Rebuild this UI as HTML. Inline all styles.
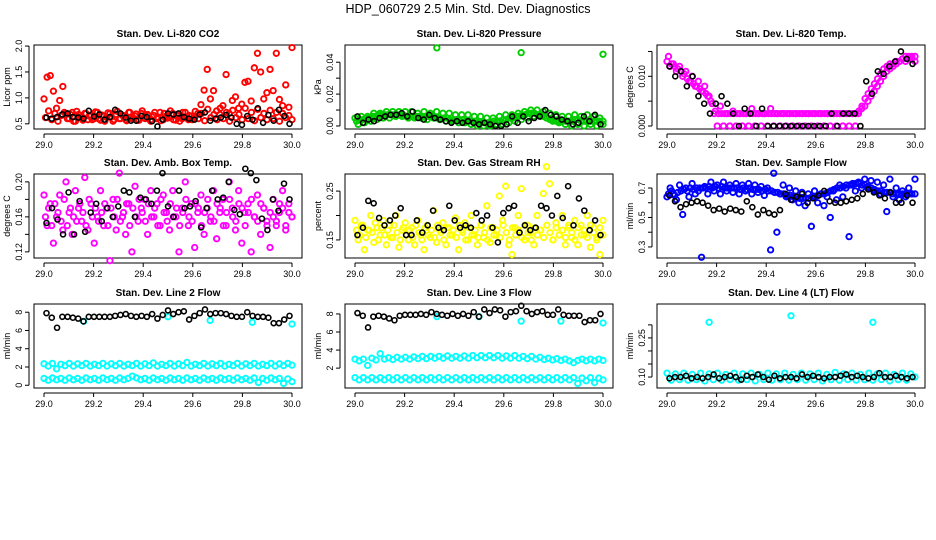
<!DOCTYPE html>
<html><head><meta charset="utf-8">
<style>
html,body{margin:0;padding:0;background:#fff;}
svg{display:block;font-family:"Liberation Sans",sans-serif;}
</style></head>
<body>
<svg id="chart" width="936" height="540" viewBox="0 0 936 540" xmlns="http://www.w3.org/2000/svg">
<rect width="936" height="540" fill="#fff"/>
<text x="468" y="13" text-anchor="middle" font-size="12.5">HDP_060729  2.5 Min. Std. Dev. Diagnostics</text>
</svg>
<script>
// ---------- data ----------
const xTicks = [29.0, 29.2, 29.4, 29.6, 29.8, 30.0];
const xTickLabels = ["29.0","29.2","29.4","29.6","29.8","30.0"];
const titles = ["Stan. Dev. Li-820 CO2","Stan. Dev. Li-820 Pressure","Stan. Dev. Li-820 Temp.","Stan. Dev. Amb. Box Temp.","Stan. Dev. Gas Stream RH","Stan. Dev. Sample Flow","Stan. Dev. Line 2 Flow","Stan. Dev. Line 3 Flow","Stan. Dev. Line 4 (LT) Flow"];
const yTitles = ["Licor ppm","kPa","degrees C","degrees C","percent","ml/min","ml/min","ml/min","ml/min"];
const yRanges = [[0.40,2.02],[-0.0019,0.0508],[-0.0006,0.0163],[0.113,0.209],[0.113,0.285],[0.225,0.795],[-0.3,8.9],[-0.2,9.1],[0.058,0.38]];
const yTicks = [[0.5,1.0,1.5,2.0],[0,0.01,0.02,0.03,0.04],[0,0.005,0.010,0.015],[0.12,0.14,0.16,0.18,0.20],[0.15,0.20,0.25],[0.3,0.4,0.5,0.6,0.7],[0,2,4,6,8],[2,4,6,8],[0.10,0.15,0.20,0.25,0.30]];
const yTickLabels = [["0.5","1.0","1.5","2.0"],["0.00","","0.02","","0.04"],["0.000","","0.010",""],["0.12","","0.16","","0.20"],["0.15","","0.25"],["0.3","","0.5","","0.7"],["0","2","4","6","8"],["2","4","6","8"],["0.10","","","0.25",""]];
const colors = ["#ff0000","#00cc00","#ff00ff","#ff00ff","#ffff00","#0000ff","#00ffff","#00ffff","#00ffff"];

const co2Red = [0.98,1.4,1.43,1.13,0.8,0.95,1.22,0.7,0.6,0.72,0.55,0.68,0.62,0.7,0.58,0.66,0.6,0.72,0.57,0.65,0.62,0.7,0.55,0.68,0.6,0.66,0.58,0.72,0.6,0.65,0.57,0.7,0.62,0.68,0.55,0.66,0.6,0.72,0.58,0.65,0.62,0.7,0.57,0.66,0.6,0.72,0.58,0.65,0.62,0.7,0.87,1.15,1.55,0.98,1.14,0.75,0.68,0.85,1.45,0.7,0.95,1.02,0.8,0.88,1.3,1.32,0.94,1.58,1.86,1.5,0.98,1.1,1.55,1.14,1.86,0.97,0.85,1.25,0.82,1.97];
const co2Band = [0.62,0.75,0.58,0.7,0.55,0.66,0.72,0.6,0.68,0.55,0.74,0.62,0.57,0.7,0.65,0.58,0.73,0.6,0.67,0.55,0.71,0.63,0.58,0.74,0.6,0.66,0.56,0.72,0.62,0.69,0.57,0.75,0.6,0.66,0.58,0.72,0.63,0.56,0.7,0.61,0.75,0.58,0.68,0.55,0.72,0.62,0.66,0.58,0.74,0.6,0.7,0.56,0.78,0.62,0.68,0.58,0.8,0.6,0.72,0.55,0.76,0.62,0.68,0.58,0.8,0.6,0.72,0.56,0.78,0.62,0.7,0.58,0.76,0.6,0.72,0.55,0.7,0.62,0.66,0.58];
const co2Black = [0.62,0.6,0.63,0.68,0.7,0.63,0.62,0.6,0.75,0.64,0.68,0.58,0.63,0.77,0.7,0.62,0.56,0.56,0.65,0.63,0.55,0.45,0.58,0.7,0.68,0.7,0.63,0.6,0.58,0.68,0.72,0.56,0.6,0.62,0.67,0.62,0.5,0.48,0.65,0.58,0.8,0.52,0.67,0.56,0.77,0.65,0.5];
const presGreen = [0.005,0.001,0.006,0.002,0.006,0.003,0.008,0.004,0.008,0.005,0.009,0.005,0.009,0.006,0.009,0.006,0.009,0.005,0.009,0.005,0.008,0.005,0.009,0.004,0.008,0.005,0.009,0.004,0.008,0.003,0.008,0.003,0.007,0.002,0.007,0.002,0.007,0.001,0.006,0.000,0.006,0.000,0.005,0.000,0.005,0.001,0.006,0.001,0.007,0.002,0.007,0.003,0.008,0.004,0.009,0.005,0.010,0.006,0.010,0.006,0.009,0.005,0.008,0.003,0.007,0.002,0.006,0.001,0.006,0.000,0.007,0.001,0.006,0.000,0.007,0.001,0.006,0.000,0.005,0.001];
const presBand = [0.003,0.004,0.004,0.005,0.005,0.006,0.006,0.007,0.007,0.007,0.007,0.007,0.007,0.007,0.007,0.007,0.006,0.006,0.006,0.006,0.006,0.006,0.006,0.006,0.006,0.005,0.005,0.005,0.005,0.005,0.004,0.004,0.004,0.004,0.004,0.003,0.003,0.003,0.003,0.002,0.002,0.002,0.002,0.002,0.003,0.003,0.003,0.004,0.004,0.005,0.005,0.006,0.006,0.007,0.007,0.008,0.008,0.008,0.007,0.007,0.006,0.005,0.004,0.004,0.003,0.003,0.003,0.003,0.003,0.003,0.004,0.004,0.003,0.003,0.003,0.003,0.003,0.003,0.003,0.003];
const presBlack = [0.006,0.002,0.004,0.003,0.005,0.006,0.007,0.007,0.008,0.006,0.009,0.005,0.004,0.007,0.005,0.004,0.003,0.002,0.003,0.002,0.003,0.002,0.001,0.002,0.001,0.000,0.000,0.001,0.006,0.002,0.006,0.003,0.005,0.006,0.010,0.007,0.006,0.004,0.003,0.001,0.002,0.006,0.003,0.007,0.001];
const presOutX = [29.33,29.67,30.0];
const presOutY = [0.049,0.046,0.045];
const tempMag = [0.013,0.012,0.0125,0.011,0.012,0.010,0.011,0.009,0.010,0.008,0.009,0.007,0.008,0.006,0.005,0.0025,0,0.004,0,0.0025,0,0.003,0,0.0025,0,0.0025,0,0.0035,0,0.0025,0,0.0025,0,0.0035,0,0.0025,0,0.0025,0,0.0025,0,0.0025,0,0.0025,0,0.0025,0,0.0025,0,0.0025,0,0.0025,0,0.0025,0,0.0025,0,0.0025,0,0.0025,0,0.0025,0.0035,0.004,0.005,0.006,0.007,0.008,0.009,0.010,0.011,0.0115,0.012,0.0125,0.013,0.0135,0.013,0.014,0.0135,0.014];
const tempBand = [0.014,0.0125,0.012,0.0115,0.011,0.0105,0.0095,0.009,0.0085,0.008,0.0075,0.007,0.0065,0.006,0.0045,0.003,0.0025,0.0025,0.0025,0.0025,0.0025,0.0025,0.0025,0.0025,0.0025,0.0025,0.0025,0.0025,0.0025,0.0025,0.0025,0.0025,0.0025,0.0025,0.0025,0.0025,0.0025,0.0025,0.0025,0.0025,0.0025,0.0025,0.0025,0.0025,0.0025,0.0025,0.0025,0.0025,0.0025,0.0025,0.0025,0.0025,0.0025,0.0025,0.0025,0.0025,0.0025,0.0025,0.0025,0.0025,0.0025,0.003,0.004,0.0055,0.0065,0.0075,0.0085,0.0095,0.0105,0.0115,0.012,0.0125,0.0125,0.013,0.013,0.0135,0.014,0.0135,0.014,0.013];
const tempBlack = [0.012,0.010,0.011,0.008,0.010,0.006,0.0045,0.0025,0.0045,0.006,0.0045,0.0025,0,0.0035,0.0025,0,0.0035,0,0,0,0,0,0,0,0,0,0,0,0.0025,0,0.0025,0.0025,0.0025,0,0.009,0.0065,0.011,0.0105,0.012,0.013,0.015,0.0135,0.0125];
const ambMag = [0.185,0.15,0.175,0.13,0.16,0.185,0.145,0.2,0.165,0.14,0.19,0.17,0.155,0.205,0.145,0.175,0.13,0.16,0.19,0.15,0.17,0.11,0.18,0.145,0.21,0.16,0.14,0.175,0.12,0.195,0.155,0.17,0.18,0.14,0.19,0.16,0.175,0.15,0.185,0.165,0.145,0.19,0.16,0.12,0.17,0.2,0.15,0.175,0.125,0.165,0.185,0.14,0.17,0.155,0.19,0.135,0.165,0.18,0.15,0.2,0.17,0.145,0.19,0.13,0.165,0.175,0.12,0.16,0.185,0.14,0.17,0.155,0.125,0.18,0.15,0.165,0.19,0.145,0.175,0.16];
const ambBand = [0.16,0.17,0.15,0.175,0.165,0.155,0.18,0.15,0.17,0.16,0.155,0.175,0.165,0.15,0.18,0.16,0.17,0.155,0.165,0.175,0.15,0.17,0.16,0.18,0.155,0.165,0.175,0.15,0.17,0.16,0.18,0.165,0.155,0.175,0.16,0.17,0.15,0.18,0.165,0.155,0.175,0.16,0.17,0.15,0.165,0.18,0.16,0.155,0.175,0.17,0.15,0.165,0.18,0.16,0.155,0.175,0.17,0.15,0.165,0.18,0.16,0.155,0.175,0.17,0.15,0.165,0.18,0.16,0.155,0.175,0.17,0.15,0.165,0.16,0.155,0.175,0.17,0.15,0.165,0.16];
const ambBlack = [0.153,0.17,0.157,0.14,0.188,0.14,0.178,0.143,0.165,0.175,0.155,0.17,0.16,0.172,0.19,0.188,0.16,0.182,0.18,0.175,0.19,0.21,0.172,0.16,0.19,0.17,0.172,0.178,0.148,0.17,0.19,0.18,0.182,0.2,0.168,0.163,0.215,0.21,0.202,0.158,0.145,0.18,0.167,0.198,0.18];
const rhYellow = [0.19,0.15,0.18,0.13,0.17,0.2,0.145,0.175,0.16,0.19,0.14,0.18,0.155,0.2,0.135,0.17,0.185,0.15,0.175,0.14,0.19,0.16,0.13,0.18,0.155,0.21,0.145,0.17,0.185,0.14,0.175,0.16,0.195,0.13,0.17,0.185,0.15,0.2,0.16,0.14,0.18,0.155,0.22,0.145,0.175,0.16,0.24,0.19,0.26,0.14,0.12,0.175,0.2,0.255,0.15,0.18,0.165,0.14,0.2,0.17,0.245,0.3,0.265,0.15,0.185,0.16,0.2,0.14,0.175,0.155,0.19,0.14,0.18,0.16,0.2,0.135,0.175,0.155,0.12,0.19];
const rhBand = [0.17,0.16,0.18,0.155,0.17,0.165,0.185,0.15,0.175,0.16,0.17,0.155,0.18,0.165,0.15,0.175,0.16,0.17,0.155,0.18,0.165,0.15,0.175,0.16,0.17,0.155,0.18,0.165,0.15,0.175,0.16,0.17,0.155,0.18,0.165,0.15,0.175,0.16,0.17,0.155,0.18,0.165,0.15,0.175,0.16,0.17,0.155,0.18,0.165,0.15,0.175,0.16,0.17,0.155,0.18,0.165,0.15,0.175,0.16,0.17,0.155,0.18,0.165,0.15,0.175,0.16,0.17,0.155,0.18,0.165,0.15,0.175,0.16,0.17,0.155,0.18,0.165,0.15,0.175,0.16];
const rhBlack = [0.16,0.175,0.23,0.225,0.195,0.18,0.19,0.2,0.215,0.16,0.16,0.19,0.165,0.18,0.21,0.175,0.17,0.22,0.19,0.175,0.18,0.175,0.205,0.19,0.2,0.175,0.145,0.205,0.215,0.22,0.165,0.18,0.17,0.175,0.22,0.215,0.2,0.24,0.195,0.26,0.18,0.235,0.21,0.17,0.19,0.16];
const flowBlue = [0.64,0.7,0.66,0.62,0.72,0.52,0.7,0.64,0.73,0.66,0.68,0.23,0.71,0.66,0.74,0.68,0.72,0.66,0.74,0.68,0.72,0.67,0.73,0.66,0.72,0.68,0.73,0.66,0.72,0.67,0.71,0.65,0.7,0.28,0.8,0.4,0.66,0.72,0.64,0.7,0.62,0.68,0.6,0.67,0.58,0.66,0.44,0.68,0.6,0.66,0.58,0.64,0.5,0.68,0.62,0.72,0.64,0.7,0.37,0.72,0.68,0.74,0.7,0.76,0.7,0.75,0.68,0.74,0.66,0.72,0.54,0.76,0.64,0.7,0.62,0.68,0.64,0.7,0.66,0.76];
const flowBand = [0.66,0.68,0.65,0.67,0.68,0.69,0.68,0.7,0.69,0.7,0.7,0.7,0.7,0.71,0.7,0.71,0.7,0.71,0.7,0.7,0.7,0.7,0.7,0.69,0.7,0.69,0.7,0.69,0.69,0.69,0.68,0.69,0.68,0.68,0.67,0.67,0.66,0.66,0.65,0.65,0.64,0.64,0.63,0.63,0.63,0.63,0.64,0.64,0.65,0.66,0.66,0.67,0.68,0.69,0.7,0.7,0.71,0.72,0.72,0.73,0.73,0.73,0.72,0.72,0.71,0.7,0.69,0.68,0.68,0.67,0.67,0.67,0.66,0.66,0.66,0.66,0.66,0.66,0.66,0.66];
const flowBlack = [0.65,0.61,0.57,0.59,0.6,0.61,0.6,0.58,0.55,0.56,0.54,0.56,0.55,0.54,0.61,0.57,0.52,0.55,0.53,0.52,0.55,0.66,0.62,0.64,0.66,0.6,0.63,0.65,0.68,0.61,0.6,0.6,0.61,0.62,0.63,0.66,0.69,0.67,0.65,0.63,0.67,0.6,0.6,0.65,0.6];
const line2Upper = [2.35,2.1,2.4,1.8,2.3,2.15,2.4,2.1,2.35,2.15,2.4,2.1,2.3,2.15,2.4,2.1,2.35,2.15,2.4,2.1,2.3,2.15,2.4,2.1,2.35,2.15,2.45,2.1,2.3,2.15,2.4,2.1,2.35,2.15,2.5,2.1,2.3,2.15,2.4,2.1,2.35,2.15,2.4,2.1,2.3,2.15,2.4,2.1,2.35,2.15,2.4,2.1,2.3,2.15,2.4,2.1,2.35,2.15,2.4,2.2];
const line2Lower = [0.75,0.55,0.8,0.6,0.75,0.55,0.8,0.6,0.75,0.55,0.8,0.6,0.75,0.55,0.8,0.6,0.75,0.55,0.8,0.6,0.75,1.0,0.8,0.6,0.75,0.55,0.8,0.6,0.75,0.55,0.8,0.6,0.75,0.55,0.8,0.6,0.75,0.55,0.8,0.6,0.75,0.55,0.8,0.6,0.75,0.55,0.8,0.6,0.75,0.55,0.8,0.3,0.75,0.55,0.8,0.6,0.75,0.2,0.7,0.4];
const line2Black = [7.9,7.4,6.3,7.5,7.5,7.4,7.3,7.0,7.5,7.5,7.5,7.5,7.5,7.6,7.7,7.8,7.6,7.5,7.6,7.5,7.8,7.3,7.7,8.2,7.8,8.0,8.1,7.2,7.6,7.9,8.3,7.8,7.9,7.9,7.8,7.6,7.5,7.5,8.0,7.6,7.5,7.5,7.4,6.8,6.8,7.2,7.6];
const line2OutX = [29.16,29.5,29.67,29.84,30.0];
const line2OutY = [7.0,7.5,7.1,6.9,6.7];
const line3Upper = [3.0,2.8,3.0,2.3,3.1,2.9,3.6,3.0,3.15,2.95,3.2,3.0,3.2,3.0,3.25,3.05,3.3,3.05,3.3,3.1,3.3,3.1,3.35,3.1,3.3,3.1,3.35,3.1,3.4,3.15,3.4,3.15,3.4,3.15,3.4,3.1,3.35,3.1,3.4,3.1,3.3,3.05,3.3,3.0,3.2,2.95,3.1,2.9,3.05,2.85,3.0,2.8,2.6,2.85,3.0,2.8,3.0,2.8,3.0,2.85];
const line3Lower = [0.95,0.7,0.95,0.7,0.95,0.7,0.95,0.7,0.95,0.7,0.95,0.7,0.95,0.7,0.95,0.7,0.95,0.7,0.95,0.7,0.95,0.7,0.95,0.7,0.95,0.7,0.95,0.7,0.95,0.7,0.95,0.7,0.95,0.7,0.95,0.7,0.95,0.7,0.95,0.7,0.95,0.7,0.95,0.7,0.95,0.7,0.95,0.7,0.95,0.7,0.95,0.7,0.95,0.3,0.9,0.6,0.95,0.4,0.9,0.7];
const line3Black = [8.1,7.8,6.5,7.7,7.8,7.7,7.5,7.3,7.8,7.9,7.9,7.9,8.0,7.9,8.2,8.0,7.9,7.8,8.0,7.8,8.0,7.8,8.2,7.7,8.5,8.1,8.5,8.4,7.7,8.2,8.3,8.9,8.3,8.0,8.2,8.3,7.9,7.9,8.5,7.9,7.8,7.8,7.8,7.1,7.3,7.3,8.0];
const line3OutX = [29.33,29.5,29.67,29.83,30.0];
const line3OutY = [7.7,7.7,7.2,7.2,7.0];
const line4Cyan = [0.115,0.088,0.112,0.09,0.115,0.088,0.11,0.09,0.115,0.085,0.112,0.09,0.115,0.088,0.11,0.09,0.115,0.088,0.112,0.09,0.115,0.085,0.11,0.09,0.115,0.088,0.112,0.09,0.115,0.088,0.11,0.09,0.115,0.088,0.112,0.09,0.115,0.085,0.11,0.09,0.118,0.088,0.112,0.09,0.115,0.088,0.11,0.09,0.115,0.088,0.112,0.09,0.115,0.085,0.11,0.09,0.115,0.088,0.112,0.1];
const line4Black = [0.095,0.1,0.1,0.105,0.095,0.1,0.095,0.1,0.11,0.095,0.1,0.105,0.1,0.09,0.105,0.1,0.11,0.1,0.09,0.105,0.095,0.1,0.1,0.095,0.11,0.1,0.105,0.1,0.095,0.1,0.1,0.105,0.11,0.1,0.105,0.1,0.095,0.1,0.115,0.1,0.1,0.105,0.1,0.095,0.1];
const line4OutX = [29.17,29.5,29.83];
const line4OutY = [0.31,0.335,0.31];

const colored = [[co2Red,co2Band],[presGreen,presBand],[tempMag,tempBand],[ambMag,ambBand],[rhYellow,rhBand],[flowBlue,flowBand],[line2Upper,line2Lower],[line3Upper,line3Lower],[line4Cyan]];
const blacks = [co2Black,presBlack,tempBlack,ambBlack,rhBlack,flowBlack,line2Black,line3Black,line4Black];
const outX = [null,presOutX,null,null,null,null,line2OutX,line3OutX,line4OutX];
const outY = [null,presOutY,null,null,null,null,line2OutY,line3OutY,line4OutY];

// ---------- drawing ----------
const NS = "http://www.w3.org/2000/svg";
const svg = document.getElementById("chart");
const colLeft = [34,345,657], rowTop = [45,174,304], W = 268, H = 84;
const X0 = 29.0, X1 = 30.0;
function mk(tag, attrs, parent){ const e = document.createElementNS(NS, tag); for (const k in attrs) e.setAttribute(k, attrs[k]); parent.appendChild(e); return e; }

for (let p = 0; p < 9; p++) {
  const L = colLeft[p % 3], T = rowTop[Math.floor(p / 3)];
  const g = mk("g", {}, svg);
  
  
  const xs = v => L + 10 + (v - X0) / (X1 - X0) * (W - 20);
  const [ymin, ymax] = yRanges[p];
  const ys = v => T + H - (v - ymin) / (ymax - ymin) * H;

  const title = mk("text", {x: L + W / 2, y: T - 8, "text-anchor": "middle", "font-size": "10", "font-weight": "bold"}, g);
  title.textContent = titles[p];
  
  

  const box = mk("rect", {x: L, y: T, width: W, height: H, fill: "none", stroke: "#000", "stroke-width": 1}, g);
  
  

  const xa = mk("g", {}, g);
  
  
  mk("line", {x1: xs(xTicks[0]), x2: xs(xTicks[xTicks.length - 1]), y1: T + H + 5, y2: T + H + 5, stroke: "#000"}, xa);
  xTicks.forEach((t, i) => {
    mk("line", {x1: xs(t), x2: xs(t), y1: T + H + 5, y2: T + H + 9, stroke: "#000"}, xa);
    const tl = mk("text", {x: xs(t), y: T + H + 19, "text-anchor": "middle", "font-size": "9"}, xa);
    tl.textContent = xTickLabels[i];
    
    
  });

  const ya = mk("g", {}, g);
  
  
  const yt = yTicks[p];
  mk("line", {x1: L - 5, x2: L - 5, y1: ys(yt[0]), y2: ys(yt[yt.length - 1]), stroke: "#000"}, ya);
  yt.forEach((t, i) => {
    mk("line", {x1: L - 9, x2: L - 5, y1: ys(t), y2: ys(t), stroke: "#000"}, ya);
    if (yTickLabels[p][i]) {
      const tl = mk("text", {x: 0, y: 0, "text-anchor": "middle", "font-size": "9", transform: `translate(${L - 12},${ys(t)}) rotate(-90)`}, ya);
      tl.textContent = yTickLabels[p][i];
      
      
    }
  });
  const ytl = mk("text", {x: 0, y: 0, "text-anchor": "middle", "font-size": "9", transform: `translate(${L - 24},${T + H / 2}) rotate(-90)`}, ya);
  ytl.textContent = yTitles[p];
  
  

  const pts = mk("g", {}, g);
  
  
  const col = colors[p];
  const dot = (x, y, c, name, r, sw) => {
    const c1 = mk("circle", {cx: xs(x), cy: ys(y), r: r, fill: "none", stroke: c, "stroke-width": sw}, pts);
    
    
  };
  colored[p].forEach((arr, k) => {
    const n = arr.length;
    const off = k === 1 && colored[p].length === 2 && p < 6 ? 0.006 : 0;
    arr.forEach((v, i) => dot(X0 + off + i / (n - 1) * (X1 - X0 - off), v, col, 'color-point', 2.7, 1.9));
  });
  if (outX[p]) outX[p].forEach((x, i) => dot(x, outY[p][i], col, 'color-point', 2.7, 1.9));
  const bk = blacks[p], nb = bk.length;
  bk.forEach((v, i) => dot(X0 + 0.01 + i / (nb - 1) * (X1 - X0 - 0.02), v, "#000", 'black-point', 2.5, 1.6));
}
</script>
</body></html>
